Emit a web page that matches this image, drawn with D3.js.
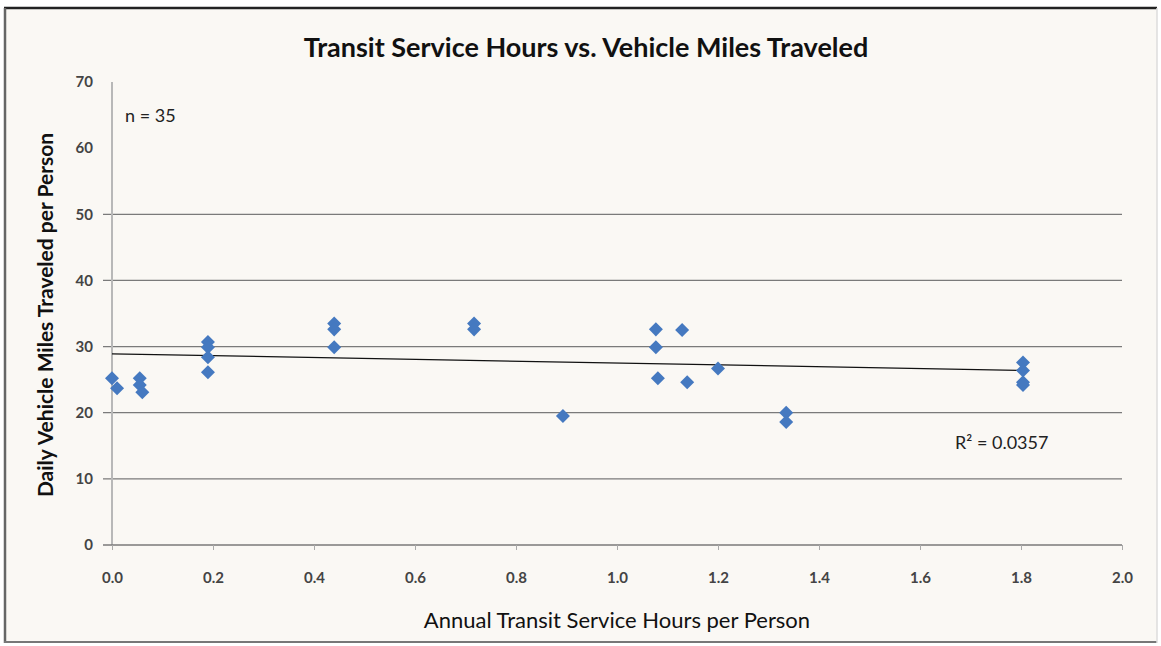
<!DOCTYPE html>
<html>
<head>
<meta charset="utf-8">
<script src="https://cdn.jsdelivr.net/npm/d3@7"></script>
<style>
  body { margin: 0; background: #ffffff; }
  text { font-family: Lato, "Open Sans", sans-serif; }
</style>
</head>
<body>
<script>
// values
var hours = [0.00, 0.01, 0.055, 0.055, 0.06, 0.19, 0.19, 0.19, 0.19, 0.44, 0.44, 0.44,
             0.717, 0.717, 0.893, 1.077, 1.077, 1.129, 1.081, 1.139, 1.20,
             1.335, 1.335, 1.804, 1.804, 1.804, 1.804];
var vmt = [25.2, 23.7, 25.2, 24.2, 23.1, 30.7, 29.9, 28.4, 26.1, 33.5, 32.6, 29.9,
           33.5, 32.6, 19.5, 32.6, 29.9, 32.5, 25.2, 24.6, 26.7,
           20.0, 18.6, 27.6, 26.4, 24.6, 24.2];
var trendX = [0.0, 1.805];
var trendY = [28.9, 26.4];
var xTicks = [0, 0.2, 0.4, 0.6, 0.8, 1.0, 1.2, 1.4, 1.6, 1.8, 2.0];
var yTicks = [0, 10, 20, 30, 40, 50, 60, 70];
var gridValues = [10, 20, 30, 40, 50];

var width = 1161, height = 646;
var svg = d3.select("body").append("svg")
  .attr("width", width)
  .attr("height", height);

// chart frame
svg.append("rect")
  .attr("x", 4).attr("y", 8)
  .attr("width", 1153).attr("height", 634)
  .attr("fill", "#faf8f4")
  .attr("stroke", "none");
svg.append("line").attr("x1", 4).attr("x2", 1157).attr("y1", 8).attr("y2", 8)
  .attr("stroke", "#222").attr("stroke-width", 2.5);
svg.append("line").attr("x1", 5).attr("x2", 5).attr("y1", 8).attr("y2", 643)
  .attr("stroke", "#666").attr("stroke-width", 2.5);
svg.append("line").attr("x1", 4).attr("x2", 1157).attr("y1", 642).attr("y2", 642)
  .attr("stroke", "#777").attr("stroke-width", 2);
svg.append("line").attr("x1", 1157).attr("x2", 1157).attr("y1", 8).attr("y2", 643)
  .attr("stroke", "#ddd").attr("stroke-width", 1.5);

var xScale = d3.scaleLinear().domain([0, 2]).range([112, 1122]);
var yScale = d3.scaleLinear().domain([0, 70]).range([545, 82]);

// gridlines
svg.append("g").selectAll("line")
  .data(gridValues)
  .join("line")
  .attr("x1", 103).attr("x2", xScale(2))
  .attr("y1", d => yScale(d)).attr("y2", d => yScale(d))
  .attr("stroke", "#7a7a7a").attr("stroke-width", 1.3);

// y axis line (light)
svg.append("line")
  .attr("x1", xScale(0)).attr("x2", xScale(0))
  .attr("y1", yScale(70)).attr("y2", yScale(0))
  .attr("stroke", "#b8b8b8").attr("stroke-width", 2);

// x axis
var xAxis = d3.axisBottom(xScale)
  .tickValues(xTicks)
  .tickSize(5)
  .tickPadding(22)
  .tickFormat(d3.format(".1f"));
var gx = svg.append("g").attr("transform", "translate(0," + yScale(0) + ")").call(xAxis);
gx.select(".domain").attr("stroke", "#7a7a7a").attr("stroke-width", 1.5)
  .attr("d", "M103,0H" + xScale(2));
gx.selectAll(".tick line").attr("stroke", "#aaa");
gx.selectAll(".tick text").attr("fill", "#444").style("font-size", "15px")
  .style("font-family", "Lato, sans-serif").style("font-weight", "bold");

// y tick labels
svg.append("g").selectAll("text")
  .data(yTicks)
  .join("text")
  .attr("x", 93)
  .attr("y", d => yScale(d))
  .attr("dy", "0.35em")
  .attr("text-anchor", "end")
  .attr("fill", "#444")
  .style("font-size", "15px")
  .style("font-weight", "bold")
  .text(d => d);

// trend line
svg.append("line")
  .attr("x1", xScale(trendX[0])).attr("y1", yScale(trendY[0]))
  .attr("x2", xScale(trendX[1])).attr("y2", yScale(trendY[1]))
  .attr("stroke", "#111").attr("stroke-width", 1.3);

// points
var diamond = d3.symbol().type(d3.symbolDiamond2).size(125);
svg.append("g").selectAll("path")
  .data(hours.map((h, i) => ({ x: h, y: vmt[i] })))
  .join("path")
  .attr("d", diamond)
  .attr("transform", d => "translate(" + xScale(d.x) + "," + yScale(d.y) + ")")
  .attr("fill", "#4579c0");

// title
svg.append("text")
  .attr("x", 586).attr("y", 57)
  .attr("text-anchor", "middle")
  .attr("fill", "#111")
  .style("font-size", "27px")
  .style("font-weight", "bold")
  .text("Transit Service Hours vs. Vehicle Miles Traveled");

// axis titles
svg.append("text")
  .attr("x", 617).attr("y", 628)
  .attr("text-anchor", "middle")
  .attr("fill", "#111")
  .style("font-size", "22px")
  .text("Annual Transit Service Hours per Person");

svg.append("text")
  .attr("transform", "translate(53,315) rotate(-90)")
  .attr("text-anchor", "middle")
  .attr("fill", "#111")
  .style("font-size", "21px")
  .style("font-weight", "bold")
  .text("Daily Vehicle Miles Traveled per Person");

// annotations
svg.append("text")
  .attr("x", 125).attr("y", 122)
  .attr("fill", "#222")
  .style("font-size", "18px")
  .text("n = 35");

svg.append("text")
  .attr("x", 955).attr("y", 449)
  .attr("fill", "#222")
  .style("font-size", "18px")
  .text("R² = 0.0357");
</script>
</body>
</html>
